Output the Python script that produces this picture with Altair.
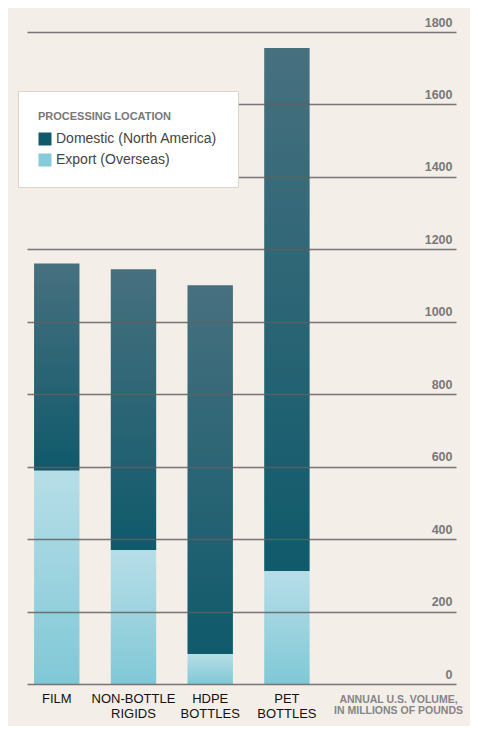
import pandas as pd
import altair as alt

# values (millions of pounds)
categories = ["FILM", "NON-BOTTLE|RIGIDS", "HDPE|BOTTLES", "PET|BOTTLES"]
export_vals = [589, 370, 83, 311]
totals = [1161, 1145, 1101, 1756]
locations = ["Domestic (North America)", "Export (Overseas)"]
y_ticks = [0, 200, 400, 600, 800, 1000, 1200, 1400, 1600, 1800]

BG = "#f4eee8"
GRID = "#606060"
LABEL_GRAY = "#787878"

rows = []
for cat, exp, tot in zip(categories, export_vals, totals):
    rows.append({"Category": cat, "Location": locations[1], "start": 0, "end": exp})
    rows.append({"Category": cat, "Location": locations[0], "start": exp, "end": tot})
df = pd.DataFrame(rows)

dom_grad = alt.Gradient(
    gradient="linear",
    stops=[alt.GradientStop(color="#47707f", offset=0),
           alt.GradientStop(color="#0f5a6b", offset=1)],
    x1=1, x2=1, y1=0, y2=1,
)
exp_grad = alt.Gradient(
    gradient="linear",
    stops=[alt.GradientStop(color="#b7dee8", offset=0),
           alt.GradientStop(color="#80c8d6", offset=1)],
    x1=1, x2=1, y1=0, y2=1,
)

# bars ~45px wide on a ~76px step, pushed to the left of the plot
x_enc = alt.X(
    "Category:N",
    sort=categories,
    scale=alt.Scale(domain=categories, paddingInner=0.408, paddingOuter=1, align=0.046),
    axis=alt.Axis(
        title=["ANNUAL U.S. VOLUME,", "IN MILLIONS OF POUNDS"],
        titleFontSize=10.5, titleFontWeight="bold", titleColor="#858585",
        titleAlign="center", titleBaseline="top", titleLineHeight=11,
        titleX=371, titleY=10,
        labelExpr="split(datum.label, '|')",
        labelAngle=0, labelFontSize=13, labelColor="#111111",
        labelBaseline="top", labelPadding=8,
        domain=False, ticks=False,
    ),
)
y_enc = alt.Y(
    "start:Q",
    scale=alt.Scale(domain=[0, 1800], nice=False),
    axis=alt.Axis(
        orient="right", values=y_ticks, title=None, format="d",
        grid=True, gridColor=GRID, gridWidth=1.3, gridOpacity=0.85,
        domain=False, ticks=False,
        labelAlign="right", labelBaseline="bottom", labelPadding=-4,
        labelOffset=-3, labelFontSize=12.5, labelFontWeight="bold",
        labelColor=LABEL_GRAY, zindex=1,
    ),
)

base = alt.Chart(df)

domestic = base.transform_filter(alt.datum.Location == locations[0]).mark_bar(
    color=dom_grad
).encode(x=x_enc, y=y_enc, y2="end:Q")

export = base.transform_filter(alt.datum.Location == locations[1]).mark_bar(
    color=exp_grad
).encode(x=x_enc, y=y_enc, y2="end:Q")

# invisible marks, only there to carry the legend
legend_layer = base.mark_square(opacity=0, size=1).encode(
    x=x_enc,
    y=y_enc,
    color=alt.Color(
        "Location:N",
        scale=alt.Scale(domain=locations, range=["#0e5a6a", "#85ccda"]),
        legend=alt.Legend(
            title="PROCESSING LOCATION", orient="none", legendX=-9, legendY=59,
            titleFontSize=11, titleFontWeight="bold", titleColor=LABEL_GRAY,
            titlePadding=10, labelFontSize=14, labelColor="#444444",
            labelOffset=4, labelLimit=300,
            symbolType="square", symbolSize=169, symbolStrokeWidth=0,
            symbolOpacity=1, rowPadding=7,
            fillColor="white", strokeColor="#ded3c8", padding=20, zindex=2,
        ),
    ),
)

chart = (
    alt.layer(domestic, export, legend_layer)
    .properties(
        width=429, height=652,
        autosize=alt.AutoSizeParams(type="none"),
        padding={"left": 19, "top": 24, "right": 14, "bottom": 42},
        background=BG,
    )
    .configure(font="Liberation Sans")
    .configure_view(stroke=None)
)

chart.save("out.html", embed_options={"renderer": "svg", "actions": False})
